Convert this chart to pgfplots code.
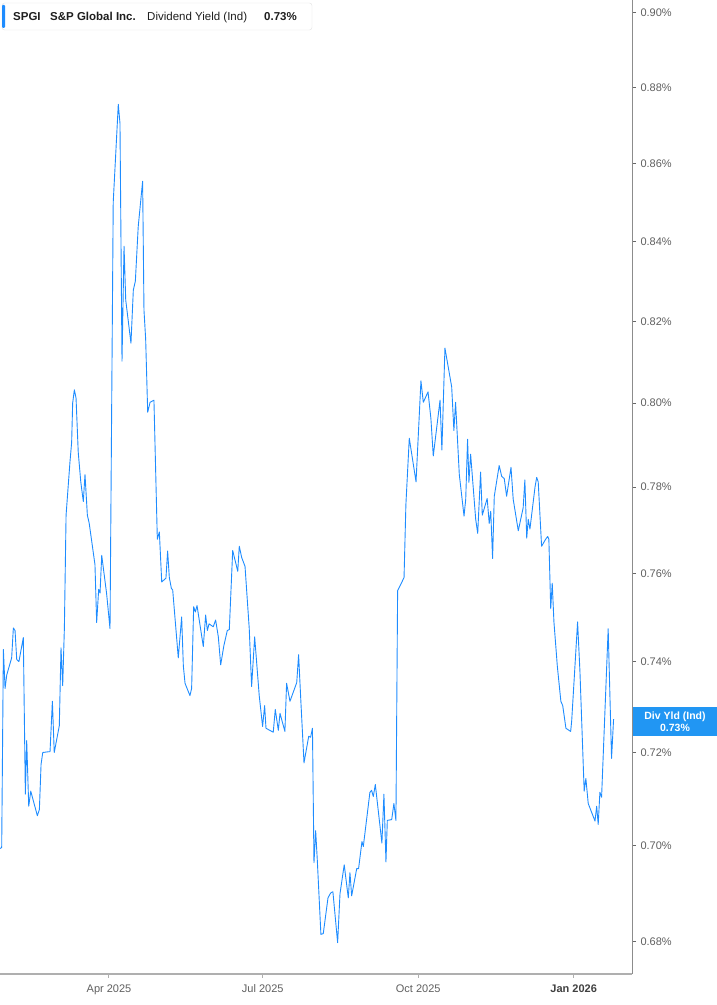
\documentclass[border=0pt]{standalone}
\usepackage{fontspec}
\setmainfont{Liberation Sans}
\usepackage{pgfplots}
\pgfplotsset{compat=1.18}
\definecolor{lineblue}{RGB}{30,140,255}
\definecolor{boxblue}{RGB}{33,150,243}
\definecolor{ticktext}{RGB}{95,95,95}
\definecolor{axisgray}{RGB}{175,175,175}

% x: days from 1 Apr 2025, y: dividend yield (%)
\pgfplotstableread{
day yld
-64.5 0.6994
-63.5 0.6996
-62.5 0.7427
-61.5 0.7341
-60.5 0.7371
-57.6 0.7409
-56.6 0.7476
-55.6 0.7470
-54.6 0.7405
-53.3 0.7400
-50.7 0.7454
-49.5 0.7110
-48.7 0.7226
-47.5 0.7084
-46.3 0.7116
-42.4 0.7064
-41.2 0.7077
-40.2 0.7174
-39.2 0.7200
-35.9 0.7202
-34.9 0.7202
-33.5 0.7312
-32.4 0.7200
-29.4 0.7259
-28.4 0.7431
-27.4 0.7347
-26.4 0.7476
-25.4 0.7735
-23.1 0.7860
-22.1 0.7907
-21.5 0.8000
-20.5 0.8032
-19.5 0.8012
-18.2 0.7883
-16.7 0.7814
-15.2 0.7767
-14.2 0.7831
-12.8 0.7735
-11.7 0.7716
-8.3 0.7621
-7.3 0.7488
-6.1 0.7564
-5.3 0.7555
-4.3 0.7642
-1.4 0.7553
0.6 0.7474
2.5 0.8500
4.0 0.8626
5.5 0.8755
6.5 0.8705
7.7 0.8102
8.9 0.8388
9.9 0.8253
13.0 0.8146
14.4 0.8278
15.6 0.8300
17.3 0.8438
19.9 0.8554
20.7 0.8228
21.7 0.8156
22.9 0.7979
24.3 0.8002
26.6 0.8007
28.6 0.7679
29.8 0.7695
31.2 0.7580
33.7 0.7589
34.7 0.7651
35.7 0.7591
36.9 0.7566
37.7 0.7562
41.0 0.7409
43.0 0.7501
44.0 0.7391
45.0 0.7352
47.9 0.7325
48.9 0.7341
50.1 0.7524
51.1 0.7512
52.1 0.7526
55.8 0.7434
57.2 0.7506
58.2 0.7470
59.2 0.7485
61.7 0.7479
63.1 0.7494
64.7 0.7456
66.1 0.7393
68.0 0.7436
70.0 0.7470
71.2 0.7472
73.2 0.7653
76.2 0.7605
77.1 0.7663
78.5 0.7637
80.5 0.7616
83.0 0.7474
84.4 0.7345
86.2 0.7456
88.9 0.7325
90.9 0.7257
92.1 0.7303
92.9 0.7253
97.2 0.7244
98.4 0.7294
100.2 0.7248
101.2 0.7286
104.1 0.7246
105.1 0.7352
107.1 0.7312
111.1 0.7354
112.2 0.7416
113.6 0.7308
115.4 0.7178
118.2 0.7235
119.3 0.7233
120.4 0.7253
121.3 0.6964
122.3 0.7032
123.3 0.6968
125.4 0.6815
126.8 0.6817
129.6 0.6891
131.2 0.6901
132.5 0.6903
135.3 0.6798
136.7 0.6899
139.2 0.6960
141.6 0.6891
142.6 0.6943
143.6 0.6895
146.6 0.6952
147.7 0.6952
149.7 0.7009
150.5 0.6998
154.4 0.7114
155.4 0.7118
156.4 0.7105
157.6 0.7131
161.5 0.7006
162.7 0.7110
163.9 0.6966
164.7 0.7054
167.3 0.7056
168.6 0.7090
169.8 0.7054
170.8 0.7560
174.6 0.7591
175.7 0.7760
177.7 0.7917
181.7 0.7814
184.6 0.8054
186.0 0.8002
188.8 0.8027
190.5 0.7964
191.9 0.7874
195.9 0.8007
197.0 0.7888
198.8 0.8134
202.8 0.8039
204.1 0.7936
205.1 0.8002
207.3 0.7831
210.1 0.7733
211.1 0.7772
212.2 0.7914
213.0 0.7812
214.0 0.7879
217.0 0.7726
218.2 0.7693
219.9 0.7836
220.9 0.7735
223.8 0.7774
225.0 0.7716
225.9 0.7744
227.0 0.7635
228.0 0.7779
230.9 0.7852
232.4 0.7826
233.9 0.7821
235.3 0.7779
237.9 0.7848
239.2 0.7772
242.2 0.7698
245.1 0.7753
246.1 0.7817
247.2 0.7681
248.1 0.7726
249.1 0.7702
252.1 0.7800
253.1 0.7824
254.0 0.7814
256.0 0.7663
258.4 0.7679
259.6 0.7686
260.3 0.7679
261.4 0.7519
262.3 0.7578
263.3 0.7490
265.3 0.7391
267.4 0.7312
268.5 0.7303
270.4 0.7253
273.2 0.7246
273.8 0.7268
277.3 0.7490
278.7 0.7378
281.2 0.7116
282.2 0.7144
283.6 0.7090
287.6 0.7052
288.6 0.7084
289.5 0.7045
290.5 0.7114
291.5 0.7103
295.4 0.7474
297.4 0.7187
298.6 0.7273
}\spgiyield

\begin{document}
\begin{tikzpicture}
\useasboundingbox (0pt,0pt) rectangle (717pt,1005pt);
\begin{axis}[
  at={(0pt,31pt)}, anchor=south west,
  scale only axis, width=632pt, height=974pt,
  xmin=-64.5, xmax=309.5,
  ymode=log, ymin=0.6734, ymax=0.9035,
  axis x line*=bottom, axis y line*=right,
  x axis line style={draw=axisgray, line width=1.2pt},
  y axis line style={draw=black!45, line width=0.8pt},
  xtick={0,91,183,275},
  xticklabels={Apr 2025,Jul 2025,Oct 2025,{\bfseries\color{black!75}Jan 2026}},
  ytick={0.68,0.70,0.72,0.74,0.76,0.78,0.80,0.82,0.84,0.86,0.88,0.90},
  yticklabels={0.68\%,0.70\%,0.72\%,0.74\%,0.76\%,0.78\%,0.80\%,0.82\%,0.84\%,0.86\%,0.88\%,0.90\%},
  tick align=outside,
  xtick style={draw=axisgray, line width=1pt},
  ytick style={draw=black!60, line width=0.8pt},
  x tick label style={font=\fontsize{11}{13}\selectfont, text=ticktext, yshift=-3pt},
  y tick label style={font=\fontsize{11}{13}\selectfont, text=ticktext, xshift=1pt},
  major tick length=4pt,
]
\addplot[lineblue, line width=0.9pt, line join=round] table[x=day, y=yld] {\spgiyield};
\end{axis}

% header box
\draw[draw=black!12, fill=white, rounded corners=2.5pt] (2pt,1002pt) rectangle (312pt,975pt);
\fill[lineblue, rounded corners=1pt] (2pt,1000pt) rectangle (5pt,977pt);
\begin{scope}[every node/.style={anchor=base west, inner sep=0pt, text=black!88, font=\fontsize{11.5}{13}\selectfont}]
  \node at (13pt,984pt) {\bfseries SPGI};
  \node at (50pt,984pt) {\bfseries S\&P Global Inc.};
  \node at (147pt,984pt) {Dividend Yield (Ind)};
  \node at (264pt,984pt) {\bfseries 0.73\%};
\end{scope}

% last value label
\fill[boxblue] (633pt,298.3pt) rectangle (717pt,269pt);
\begin{scope}[every node/.style={anchor=base, inner sep=0pt, text=white, font=\bfseries\fontsize{10.5}{12}\selectfont}]
  \node at (675pt,285pt) {Div Yld (Ind)};
  \node at (675pt,273pt) {0.73\%};
\end{scope}
\end{tikzpicture}
\end{document}
